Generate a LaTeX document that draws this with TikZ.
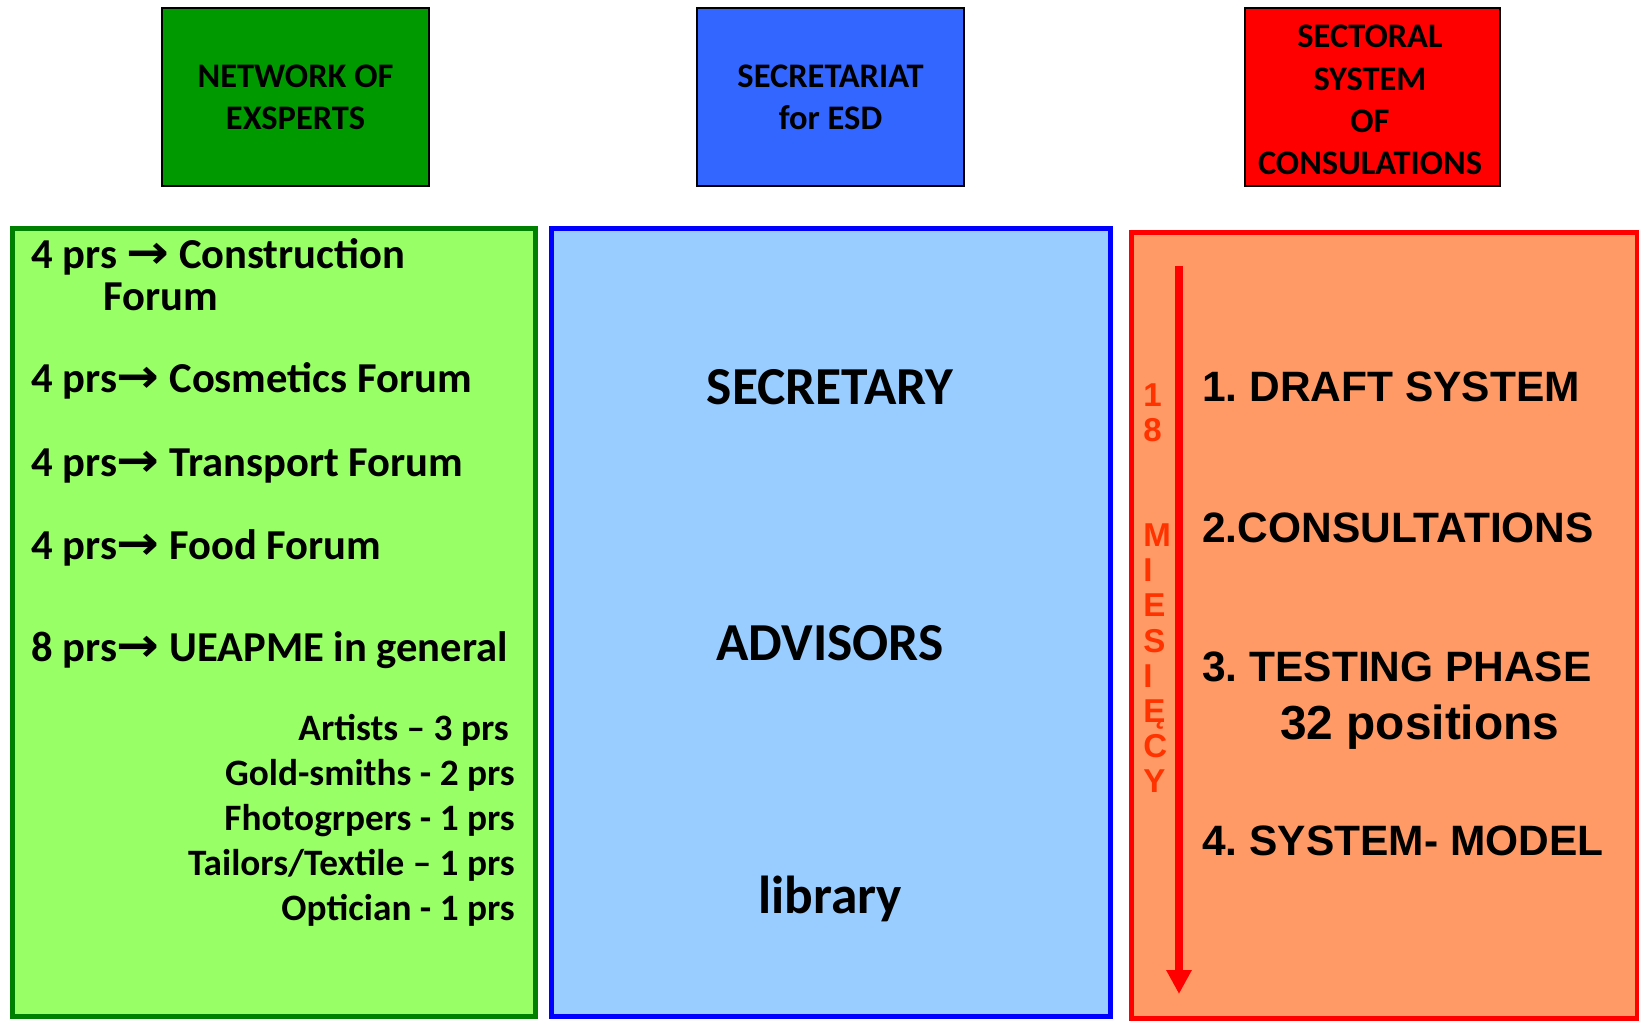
\documentclass[tikz,border=0pt]{standalone}
\usepackage{fontspec}
\setmainfont{Carlito}
\newfontfamily\arialfont{Liberation Sans}
\newfontfamily\arrowfont{DejaVu Sans}
\usetikzlibrary{arrows.meta}
\definecolor{hdrgreen}{HTML}{009900}
\definecolor{hdrblue}{HTML}{3366FF}
\definecolor{hdrred}{HTML}{FF0000}
\definecolor{panelgreen}{HTML}{99FF66}
\definecolor{panelblue}{HTML}{99CCFF}
\definecolor{panelred}{HTML}{FF9966}
\definecolor{darkgreen}{HTML}{008000}
\definecolor{monthred}{HTML}{FF3300}
\newcommand{\arr}{{\arrowfont\bfseries\scalebox{1.2}[1.1]{→}}}
\frenchspacing

\begin{document}
\begin{tikzpicture}[x=0.025cm, y=-0.025cm,
  header/.style={draw=black, line width=1.4pt, minimum width=#1, minimum height=4.45cm,
    inner sep=0pt, align=center, font=\fontsize{24.5}{30}\selectfont\bfseries},
  panel/.style={line width=3.6pt},
  item/.style={anchor=mid west, inner sep=0pt, font=\fontsize{30.3}{32}\selectfont\bfseries},
  smallitem/.style={anchor=mid east, inner sep=0pt, font=\fontsize{26.5}{28}\selectfont\bfseries},
  staff/.style={inner sep=0pt, font=\fontsize{38}{40}\selectfont\bfseries},
  phase/.style={anchor=mid west, inner sep=0pt, font=\fontsize{30.2}{34}\selectfont\arialfont\bfseries},
  arrowline/.style={draw=hdrred, line width=5pt, -{Triangle[width=17pt, length=17pt]}}]
\useasboundingbox (0,0) rectangle (1639,1021);

% the three headers
\node[header=6.675cm, fill=hdrgreen] (network) at (295.5,97) {NETWORK OF\\ EXSPERTS};
\node[header=6.675cm, fill=hdrblue] (secretariat) at (830.5,97) {SECRETARIAT\\ for ESD};
\node[header=6.375cm, fill=hdrred] (sectoral) at (1372.5,97) {};
\node[align=center, font=\fontsize{24.5}{30}\selectfont\bfseries] (sectoraltext) at (1370,100)
  {SECTORAL\\ SYSTEM\\ OF\\ CONSULATIONS};

% the three panels
\draw[panel, draw=darkgreen, fill=panelgreen] (12.5,228.5) rectangle (535.5,1016.5);
\draw[panel, draw=blue, fill=panelblue] (551.5,228.5) rectangle (1110.5,1016.5);
\draw[panel, draw=hdrred, fill=panelred] (1131.5,232.5) rectangle (1638,1018.5);

% network of experts
\node[item] (construction) at (31,265) {4 prs \arr{} Construction};
\node[item] (constrforum) at (103,307) {Forum};
\node[item] (cosmetics) at (31,389) {4 prs\arr{} Cosmetics Forum};
\node[item] (transport) at (31,473) {4 prs\arr{} Transport Forum};
\node[item] (food) at (31,556) {4 prs\arr{} Food Forum};
\node[item] (ueapme) at (31,658) {8 prs\arr{} UEAPME in general};
\node[smallitem] (artists) at (509,737) {Artists – 3 prs};
\node[smallitem] (goldsmiths) at (515,782) {Gold-smiths - 2 prs};
\node[smallitem] (photographers) at (515,827) {Fhotogrpers - 1 prs};
\node[smallitem] (tailors) at (515,872) {Tailors/Textile – 1 prs};
\node[smallitem] (optician) at (515,917) {Optician - 1 prs};

% secretariat
\node[staff] (secretary) at (830,387) {SECRETARY};
\node[staff] (advisors) at (830,643) {ADVISORS};
\node[staff] (library) at (830,899) {library};

% consultations
\coordinate (start) at (1179,266);
\coordinate (finish) at (1179,994);
\draw[arrowline] (start) -- (finish);
\node[anchor=west, inner sep=0pt, align=left, text=monthred,
  font=\fontsize{23.5}{25}\selectfont\arialfont\bfseries] (months) at (1143,588)
  {1\\8\\ \\ \\M\\I\\E\\S\\I\\Ę\\C\\Y};
\node[phase] (draft) at (1202,398) {1. DRAFT SYSTEM};
\node[phase] (consult) at (1202,539) {2.CONSULTATIONS};
\node[phase] (testing) at (1202,678) {3. TESTING PHASE};
\node[phase, font=\fontsize{34}{36}\selectfont\arialfont\bfseries] (positions) at (1280,736) {32 positions};
\node[phase] (model) at (1202,852) {4. SYSTEM- MODEL};
\end{tikzpicture}
\end{document}
